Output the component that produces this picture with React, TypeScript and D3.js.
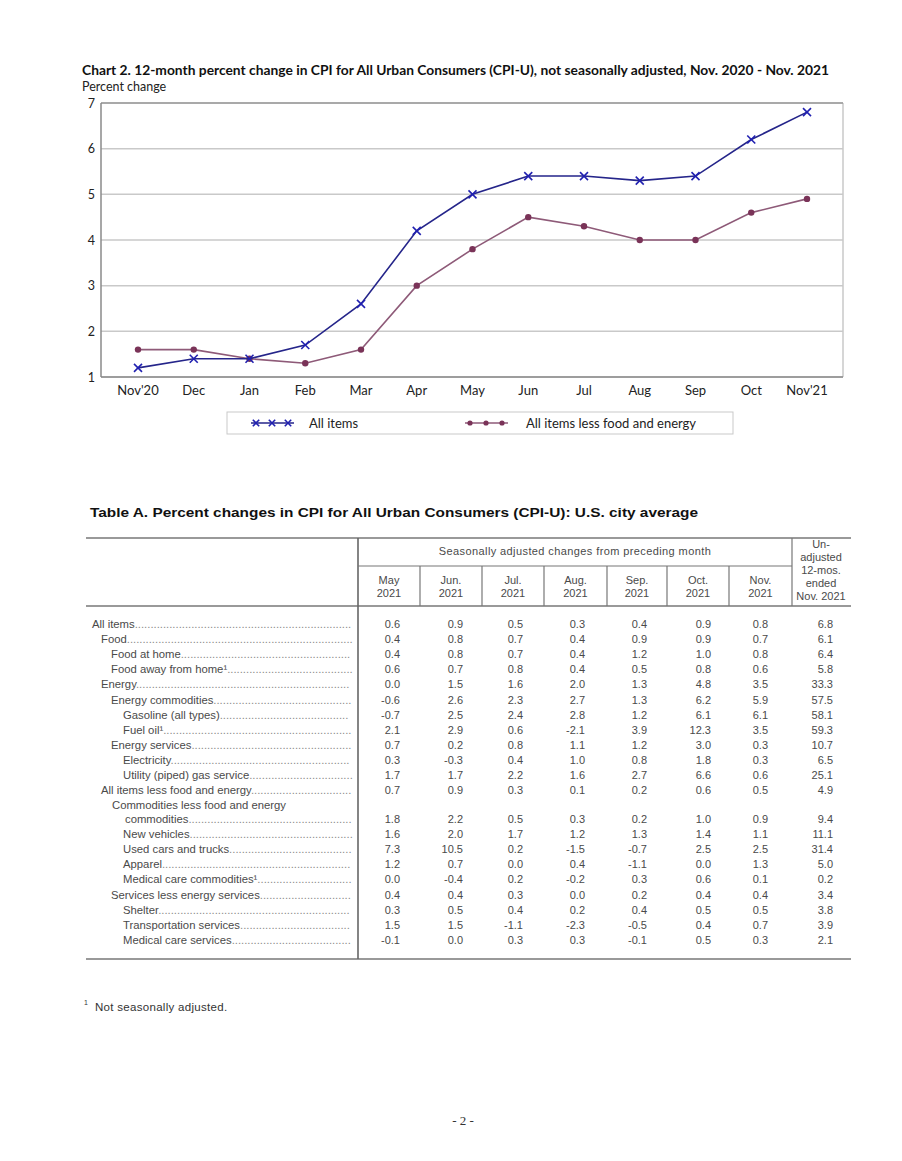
import React from "react";
import * as d3 from "d3";

const months = ["Nov'20", "Dec", "Jan", "Feb", "Mar", "Apr", "May", "Jun", "Jul", "Aug", "Sep", "Oct", "Nov'21"];
const allItems = [1.2, 1.4, 1.4, 1.7, 2.6, 4.2, 5.0, 5.4, 5.4, 5.3, 5.4, 6.2, 6.8];
const coreItems = [1.6, 1.6, 1.4, 1.3, 1.6, 3.0, 3.8, 4.5, 4.3, 4.0, 4.0, 4.6, 4.9];
const yTicks = [1, 2, 3, 4, 5, 6, 7];
const seriesNames = ["All items", "All items less food and energy"];

const rowLabels = [
  "All items", "Food", "Food at home", "Food away from home¹", "Energy", "Energy commodities",
  "Gasoline  (all types)", "Fuel oil¹", "Energy services", "Electricity", "Utility (piped) gas service",
  "All items less food and energy", "commodities", "New vehicles", "Used cars and trucks", "Apparel",
  "Medical care commodities¹", "Services less energy services", "Shelter", "Transportation  services",
  "Medical care services",
];
const rowIndent = [0, 1, 2, 2, 1, 2, 3, 3, 2, 3, 3, 1, 3, 3, 3, 3, 3, 2, 3, 3, 3];
const colHeads = ["May", "Jun.", "Jul.", "Aug.", "Sep.", "Oct.", "Nov."];
const may21 = ["0.6", "0.4", "0.4", "0.6", "0.0", "-0.6", "-0.7", "2.1", "0.7", "0.3", "1.7", "0.7", "1.8", "1.6", "7.3", "1.2", "0.0", "0.4", "0.3", "1.5", "-0.1"];
const jun21 = ["0.9", "0.8", "0.8", "0.7", "1.5", "2.6", "2.5", "2.9", "0.2", "-0.3", "1.7", "0.9", "2.2", "2.0", "10.5", "0.7", "-0.4", "0.4", "0.5", "1.5", "0.0"];
const jul21 = ["0.5", "0.7", "0.7", "0.8", "1.6", "2.3", "2.4", "0.6", "0.8", "0.4", "2.2", "0.3", "0.5", "1.7", "0.2", "0.0", "0.2", "0.3", "0.4", "-1.1", "0.3"];
const aug21 = ["0.3", "0.4", "0.4", "0.4", "2.0", "2.7", "2.8", "-2.1", "1.1", "1.0", "1.6", "0.1", "0.3", "1.2", "-1.5", "0.4", "-0.2", "0.0", "0.2", "-2.3", "0.3"];
const sep21 = ["0.4", "0.9", "1.2", "0.5", "1.3", "1.3", "1.2", "3.9", "1.2", "0.8", "2.7", "0.2", "0.2", "1.3", "-0.7", "-1.1", "0.3", "0.2", "0.4", "-0.5", "-0.1"];
const oct21 = ["0.9", "0.9", "1.0", "0.8", "4.8", "6.2", "6.1", "12.3", "3.0", "1.8", "6.6", "0.6", "1.0", "1.4", "2.5", "0.0", "0.6", "0.4", "0.5", "0.4", "0.5"];
const nov21 = ["0.8", "0.7", "0.8", "0.6", "3.5", "5.9", "6.1", "3.5", "0.3", "0.3", "0.6", "0.5", "0.9", "1.1", "2.5", "1.3", "0.1", "0.4", "0.5", "0.7", "0.3"];
const unadj12 = ["6.8", "6.1", "6.4", "5.8", "33.3", "57.5", "58.1", "59.3", "10.7", "6.5", "25.1", "4.9", "9.4", "11.1", "31.4", "5.0", "0.2", "3.4", "3.8", "3.9", "2.1"];
const valueCols = [may21, jun21, jul21, aug21, sep21, oct21, nov21, unadj12];

const BLUE = "#25258a";
const MAUVE_LINE = "#8e5a78";
const MAUVE_DOT = "#7a3358";
const CH = "Lato, 'Open Sans', sans-serif";
const AR = "'Liberation Sans', Arial, sans-serif";
const GRAY = "#4a4a4a";
const LABEL_SIZE = 11.3;

let measureCtx: CanvasRenderingContext2D | null = null;
function textWidth(s: string, size: number): number {
  if (!measureCtx) {
    const c = document.createElement("canvas");
    measureCtx = c.getContext("2d");
  }
  if (!measureCtx) return s.length * size * 0.5;
  measureCtx.font = `${size}px 'Liberation Sans', Arial, sans-serif`;
  return measureCtx.measureText(s).width;
}

function XMark({ x, y, s = 4, color }: { x: number; y: number; s?: number; color: string }) {
  return (
    <g stroke={color} strokeWidth={1.6}>
      <line x1={x - s} y1={y - s} x2={x + s} y2={y + s} />
      <line x1={x - s} y1={y + s} x2={x + s} y2={y - s} />
    </g>
  );
}

export default function App() {
  const x = d3.scalePoint<string>().domain(months).range([138, 807]);
  const y = d3.scaleLinear().domain([1, 7]).range([377, 103]);
  const frame = { l: 101, r: 843, t: 103, b: 377 };
  const line = d3
    .line<number>()
    .x((_, i) => x(months[i]) as number)
    .y((d) => y(d));

  // table geometry
  const colEdges = [358, 420, 482, 544, 607, 667, 729, 792, 851];
  const valueRight = [400, 463, 523, 585, 647, 711, 768, 833];
  const indentX = [92, 101, 111, 123];
  const rowY = (i: number) => (i <= 11 ? 624 + i * 15.1 : 819 + (i - 12) * 15.1);
  const leaderEnd = 353;
  const dotW = textWidth(".", LABEL_SIZE);

  return (
    <svg
      width={902}
      height={1161}
      style={{ position: "absolute", left: 0, top: 0, background: "#fff" }}
      xmlns="http://www.w3.org/2000/svg"
    >
      <rect width={902} height={1161} fill="#fff" />

      {/* ---------- Chart ---------- */}
      <text x={82} y={75} fontFamily={CH} fontWeight={700} fontSize={12.5} fill="#111" textLength={747} lengthAdjust="spacingAndGlyphs">
        Chart 2. 12-month percent change in CPI for All Urban Consumers (CPI-U), not seasonally adjusted, Nov. 2020 - Nov. 2021
      </text>
      <text x={82} y={91} fontFamily={CH} fontSize={12.5} fill="#222">
        Percent change
      </text>

      {yTicks.map((t) => (
        <g key={t}>
          <line x1={frame.l} x2={frame.r} y1={y(t)} y2={y(t)} stroke="#c9c9c9" strokeWidth={1.5} />
          <text x={95} y={y(t) + 4.5} textAnchor="end" fontFamily={CH} fontSize={12.5} fill="#222">
            {t}
          </text>
        </g>
      ))}
      <line x1={frame.r} x2={frame.r} y1={frame.t} y2={frame.b} stroke="#c9c9c9" strokeWidth={1.5} />
      <line x1={frame.l} x2={frame.r} y1={frame.t} y2={frame.t} stroke="#9a9a9a" strokeWidth={1.5} />
      <line x1={frame.l} x2={frame.l} y1={frame.t} y2={frame.b} stroke="#8a8a8a" strokeWidth={1.5} />
      <line x1={frame.l} x2={frame.r} y1={frame.b} y2={frame.b} stroke="#8a8a8a" strokeWidth={1.5} />

      {months.map((m) => (
        <text key={m} x={x(m)} y={395} textAnchor="middle" fontFamily={CH} fontSize={13} fill="#222">
          {m}
        </text>
      ))}

      <path d={line(coreItems) || ""} fill="none" stroke={MAUVE_LINE} strokeWidth={1.6} />
      {coreItems.map((v, i) => (
        <circle key={i} cx={x(months[i])} cy={y(v)} r={3.2} fill={MAUVE_DOT} />
      ))}
      <path d={line(allItems) || ""} fill="none" stroke={BLUE} strokeWidth={1.6} />
      {allItems.map((v, i) => (
        <XMark key={i} x={x(months[i]) as number} y={y(v)} color="#2020b0" />
      ))}

      {/* legend */}
      <rect x={227} y={412} width={506} height={22} fill="#fff" stroke="#c9c9c9" strokeWidth={1} />
      <line x1={251} x2={294} y1={423} y2={423} stroke={BLUE} strokeWidth={1.6} />
      {[256, 272, 288].map((lx) => (
        <XMark key={lx} x={lx} y={423} s={3.2} color="#2020b0" />
      ))}
      <text x={309} y={427.5} fontFamily={CH} fontSize={13} fill="#222">
        {seriesNames[0]}
      </text>
      <line x1={465} x2={508} y1={423} y2={423} stroke={MAUVE_LINE} strokeWidth={1.6} />
      {[470, 486, 502].map((lx) => (
        <circle key={lx} cx={lx} cy={423} r={2.6} fill={MAUVE_DOT} />
      ))}
      <text x={526} y={427.5} fontFamily={CH} fontSize={13} fill="#222">
        {seriesNames[1]}
      </text>

      {/* ---------- Table ---------- */}
      <text x={90} y={517} fontFamily={AR} fontWeight={700} fontSize={13.5} fill="#111" textLength={608} lengthAdjust="spacingAndGlyphs">
        Table A. Percent changes in CPI for All Urban Consumers (CPI-U): U.S. city average
      </text>

      <line x1={86} x2={851} y1={538} y2={538} stroke="#777" strokeWidth={1.6} />
      <line x1={86} x2={851} y1={606} y2={606} stroke="#777" strokeWidth={1.6} />
      <line x1={86} x2={851} y1={959} y2={959} stroke="#777" strokeWidth={1.6} />
      <line x1={358} x2={358} y1={538} y2={959} stroke="#666" strokeWidth={1.6} />
      <line x1={358} x2={792} y1={566} y2={566} stroke="#777" strokeWidth={1.2} />
      <line x1={792} x2={792} y1={538} y2={606} stroke="#777" strokeWidth={1.2} />
      {colEdges.slice(1, 7).map((cx) => (
        <line key={cx} x1={cx} x2={cx} y1={566} y2={606} stroke="#777" strokeWidth={1.2} />
      ))}

      <text x={575} y={555} textAnchor="middle" fontFamily={AR} fontSize={11} letterSpacing={0.4} fill={GRAY}>
        Seasonally adjusted changes from preceding month
      </text>
      {colHeads.map((h, i) => {
        const cx = (colEdges[i] + colEdges[i + 1]) / 2;
        return (
          <g key={h} fontFamily={AR} fontSize={11} fill={GRAY} textAnchor="middle">
            <text x={cx} y={584}>{h}</text>
            <text x={cx} y={597}>2021</text>
          </g>
        );
      })}
      <g fontFamily={AR} fontSize={11} fill={GRAY} textAnchor="middle">
        {["Un-", "adjusted", "12-mos.", "ended", "Nov. 2021"].map((t, i) => (
          <text key={t} x={821} y={548 + i * 13}>{t}</text>
        ))}
      </g>

      <g fontFamily={AR} fontSize={LABEL_SIZE} fill={GRAY}>
        {rowLabels.map((lab, i) => {
          const lx = indentX[rowIndent[i]] + (i === 12 ? 2 : 0);
          const w = textWidth(lab, LABEL_SIZE);
          const n = Math.max(0, Math.floor((leaderEnd - lx - w) / dotW));
          return (
            <text key={i} x={lx} y={rowY(i) + 4}>
              {lab}
              <tspan fill="#8a8a8a">{".".repeat(n)}</tspan>
            </text>
          );
        })}
        <text x={112} y={809}>Commodities less food and energy</text>
      </g>

      <g fontFamily={AR} fontSize={11} fill={GRAY} textAnchor="end">
        {valueCols.map((col, c) =>
          col.map((v, i) => (
            <text key={`${c}-${i}`} x={valueRight[c]} y={rowY(i) + 4}>
              {v}
            </text>
          ))
        )}
      </g>

      {/* footnote */}
      <text x={84} y={1005} fontFamily={AR} fontSize={7} fill="#333">1</text>
      <text x={95} y={1011} fontFamily={AR} fontSize={11.5} letterSpacing={0.3} fill="#333">Not seasonally adjusted.</text>

      <text x={463} y={1125} textAnchor="middle" fontFamily="'Liberation Serif', 'Times New Roman', serif" fontSize={13} fill="#333">
        - 2 -
      </text>
    </svg>
  );
}
